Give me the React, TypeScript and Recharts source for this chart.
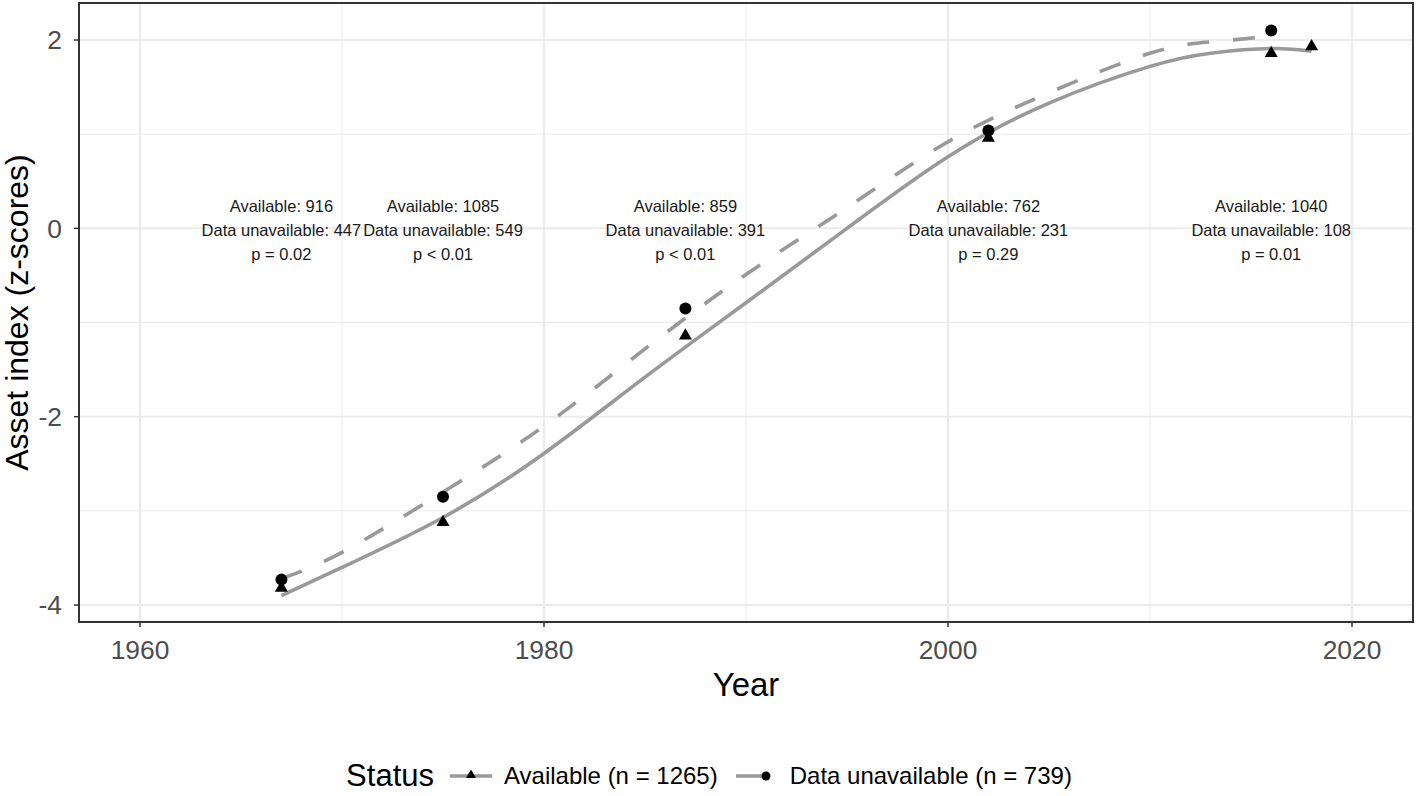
import React from "react";
import {
  ComposedChart,
  Line,
  Scatter,
  XAxis,
  YAxis,
  CartesianGrid,
  ReferenceArea,
} from "recharts";

// ---------- data ----------
const yearsAvailable = [1967, 1975, 1987, 2002, 2016, 2018];
const indexAvailable = [-3.82, -3.12, -1.14, 0.96, 1.86, 1.93];

const yearsUnavailable = [1967, 1975, 1987, 2002, 2016];
const indexUnavailable = [-3.73, -2.85, -0.85, 1.04, 2.1];

const smoothYearsAvailable = [1967, 1970, 1975, 1980, 1985, 1990, 1995, 2000, 2005, 2010, 2013, 2016, 2018];
const smoothAvailable = [-3.9, -3.6, -3.07, -2.39, -1.58, -0.79, 0.0, 0.76, 1.33, 1.72, 1.86, 1.91, 1.88];

const smoothYearsUnavailable = [1967, 1970, 1975, 1980, 1985, 1990, 1995, 2000, 2005, 2010, 2013, 2016];
const smoothUnavailable = [-3.72, -3.44, -2.8, -2.1, -1.28, -0.49, 0.22, 0.92, 1.44, 1.86, 1.98, 2.04];

const annotationYears = [1967, 1975, 1987, 2002, 2016];
const availableCounts = [916, 1085, 859, 762, 1040];
const unavailableCounts = [447, 549, 391, 231, 108];
const pLabels = ["p = 0.02", "p < 0.01", "p < 0.01", "p = 0.29", "p = 0.01"];

const xTicks = [1960, 1980, 2000, 2020];
const xMinor = [1970, 1990, 2010];
const yTicks = [-4, -2, 0, 2];
const yMinor = [-3, -1, 1];

const legendTitle = "Status";
const legendAvailable = "Available (n = 1265)";
const legendUnavailable = "Data unavailable (n = 739)";

// ---------- derived tables ----------
const availablePoints = yearsAvailable.map((x, i) => ({ x, y: indexAvailable[i] }));
const unavailablePoints = yearsUnavailable.map((x, i) => ({ x, y: indexUnavailable[i] }));
const availableSmooth = smoothYearsAvailable.map((x, i) => ({ x, y: smoothAvailable[i] }));
const unavailableSmooth = smoothYearsUnavailable.map((x, i) => ({ x, y: smoothUnavailable[i] }));
const annotations = annotationYears.map((x, i) => ({
  x,
  y: 0,
  a: availableCounts[i],
  u: unavailableCounts[i],
  p: pLabels[i],
}));

const X_DOMAIN: [number, number] = [1956.98, 2023.02];
const Y_DOMAIN: [number, number] = [-4.18, 2.393];

const FONT = '"Liberation Sans", Arial, Helvetica, sans-serif';
const LINE_GREY = "#999999";
const GRID = "#EBEBEB";

const mapX = (v: number, off: any) =>
  off.left + ((v - X_DOMAIN[0]) / (X_DOMAIN[1] - X_DOMAIN[0])) * off.width;
const mapY = (v: number, off: any) =>
  off.top + ((Y_DOMAIN[1] - v) / (Y_DOMAIN[1] - Y_DOMAIN[0])) * off.height;

const Triangle = (props: any) => {
  const { cx, cy } = props;
  if (cx == null || cy == null) return null;
  const s = 13;
  const h = s * 0.866;
  return (
    <polygon
      points={`${cx - s / 2},${cy + h / 3} ${cx + s / 2},${cy + h / 3} ${cx},${cy - (2 * h) / 3}`}
      fill="#000"
    />
  );
};

const Dot = (props: any) => {
  const { cx, cy } = props;
  if (cx == null || cy == null) return null;
  return <circle cx={cx} cy={cy} r={6} fill="#000" />;
};

const Annotation = (props: any) => {
  const { cx, cy, payload } = props;
  if (cx == null || cy == null) return null;
  return (
    <text
      x={cx}
      y={cy}
      textAnchor="middle"
      fontFamily={FONT}
      fontSize={16.5}
      fill="#1a1a1a"
    >
      <tspan x={cx} y={cy - 16}>{`Available: ${payload.a}`}</tspan>
      <tspan x={cx} y={cy + 8}>{`Data unavailable: ${payload.u}`}</tspan>
      <tspan x={cx} y={cy + 32}>{payload.p}</tspan>
    </text>
  );
};

export default function App() {
  return (
    <div
      style={{
        position: "absolute",
        left: 0,
        top: 0,
        width: 1418,
        height: 796,
        background: "#fff",
        fontFamily: FONT,
      }}
    >
      <ComposedChart
        width={1418}
        height={796}
        margin={{ top: 3, right: 5, bottom: 114, left: 0 }}
      >
        <CartesianGrid
          stroke={GRID}
          strokeWidth={1}
          verticalCoordinatesGenerator={({ offset }: any) => xMinor.map((v) => mapX(v, offset))}
          horizontalCoordinatesGenerator={({ offset }: any) => yMinor.map((v) => mapY(v, offset))}
        />
        <CartesianGrid
          stroke={GRID}
          strokeWidth={2}
          verticalCoordinatesGenerator={({ offset }: any) => xTicks.map((v) => mapX(v, offset))}
          horizontalCoordinatesGenerator={({ offset }: any) => yTicks.map((v) => mapY(v, offset))}
        />
        <XAxis
          type="number"
          dataKey="x"
          domain={X_DOMAIN}
          allowDataOverflow
          ticks={xTicks}
          height={60}
          axisLine={false}
          tickSize={5}
          tickMargin={13}
          tickLine={{ stroke: "#333333", strokeWidth: 1.5 }}
          tick={{ fill: "#4D4D4D", fontSize: 26.4, fontFamily: FONT }}
          label={{
            content: () => (
              <text x={746} y={696} textAnchor="middle" fontFamily={FONT} fontSize={33} fill="#000">
                Year
              </text>
            ),
          }}
        />
        <YAxis
          type="number"
          dataKey="y"
          domain={Y_DOMAIN}
          allowDataOverflow
          ticks={yTicks}
          width={79}
          axisLine={false}
          tickSize={5}
          tickMargin={12}
          tickLine={{ stroke: "#333333", strokeWidth: 1.5 }}
          tick={{ fill: "#4D4D4D", fontSize: 26.4, fontFamily: FONT }}
          label={{
            content: () => (
              <text
                x={28}
                y={312.5}
                transform="rotate(-90, 28, 312.5)"
                textAnchor="middle"
                fontFamily={FONT}
                fontSize={32}
                fill="#000"
              >
                Asset index (z-scores)
              </text>
            ),
          }}
        />
        <Scatter data={availablePoints} dataKey="y" shape={Triangle} isAnimationActive={false} />
        <Scatter data={unavailablePoints} dataKey="y" shape={Dot} isAnimationActive={false} />
        <Line
          data={availableSmooth}
          dataKey="y"
          type="natural"
          stroke={LINE_GREY}
          strokeWidth={3.6}
          dot={false}
          activeDot={false}
          isAnimationActive={false}
        />
        <Line
          data={unavailableSmooth}
          dataKey="y"
          type="natural"
          stroke={LINE_GREY}
          strokeWidth={3.6}
          strokeDasharray="22 24"
          dot={false}
          activeDot={false}
          isAnimationActive={false}
        />
        <Scatter data={annotations} dataKey="y" shape={Annotation} isAnimationActive={false} />
        <ReferenceArea
          x1={X_DOMAIN[0]}
          x2={X_DOMAIN[1]}
          y1={Y_DOMAIN[0]}
          y2={Y_DOMAIN[1]}
          fill="none"
          fillOpacity={0}
          stroke="#333333"
          strokeWidth={2}
          ifOverflow="visible"
        />
      </ComposedChart>

      <div
        style={{
          position: "absolute",
          left: 0,
          width: 1418,
          top: 756,
          height: 40,
          display: "flex",
          alignItems: "center",
          justifyContent: "center",
          fontFamily: FONT,
          color: "#000",
        }}
      >
        <span style={{ fontSize: 31, marginRight: 14 }}>{legendTitle}</span>
        <svg width={46} height={24} style={{ marginRight: 10 }}>
          <line x1={2} y1={12} x2={44} y2={12} stroke={LINE_GREY} strokeWidth={3.6} />
          <polygon points="18,14 28,14 23,5.5" fill="#000" />
        </svg>
        <span style={{ fontSize: 24, marginRight: 16 }}>{legendAvailable}</span>
        <svg width={46} height={24} style={{ marginRight: 10 }}>
          <line x1={2} y1={12} x2={30} y2={12} stroke={LINE_GREY} strokeWidth={3.6} />
          <circle cx={32} cy={12} r={4.5} fill="#000" />
        </svg>
        <span style={{ fontSize: 24 }}>{legendUnavailable}</span>
      </div>
    </div>
  );
}
